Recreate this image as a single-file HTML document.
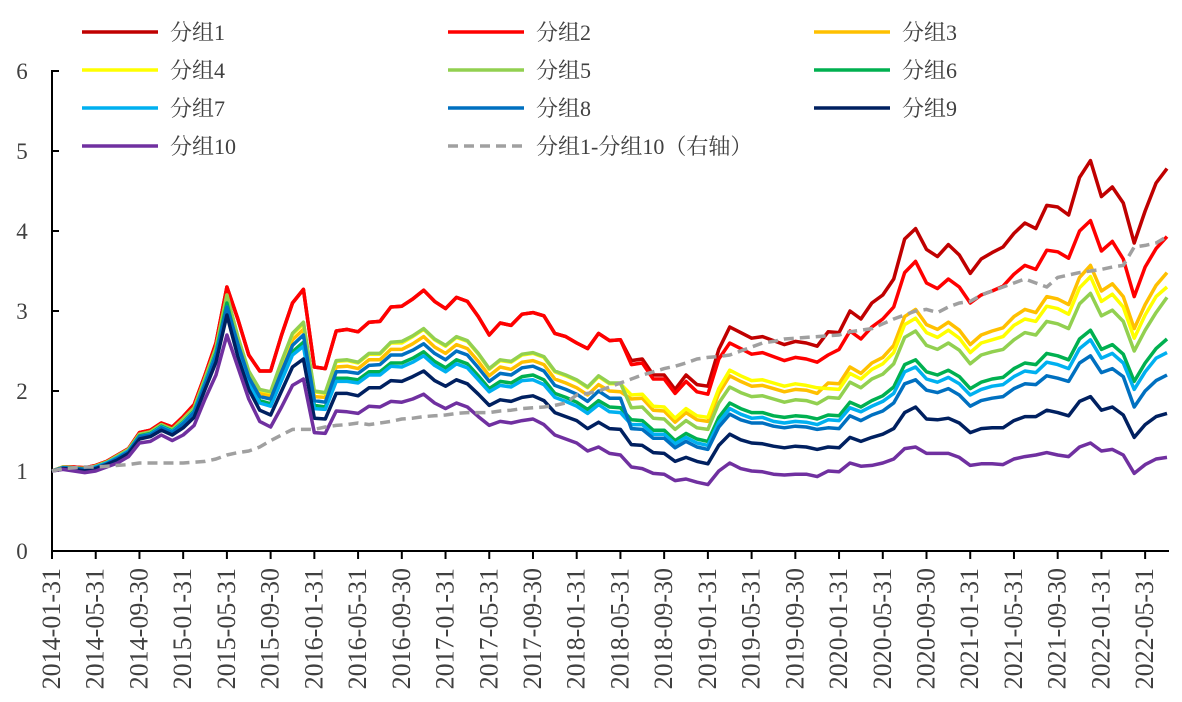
<!DOCTYPE html>
<html><head><meta charset="utf-8"><style>
html,body{margin:0;padding:0;background:#fff;}
svg{display:block;font-family:"Liberation Serif","Noto Serif CJK SC",serif;}
</style></head><body>
<svg id="chart" width="1182" height="702" viewBox="0 0 1182 702" xmlns="http://www.w3.org/2000/svg"></svg>
<script>
const g1=[1.00,1.05,1.05,1.04,1.07,1.12,1.20,1.28,1.48,1.51,1.60,1.55,1.68,1.83,2.20,2.60,3.30,2.90,2.45,2.25,2.25,2.70,3.10,3.27,2.30,2.28,2.75,2.77,2.74,2.86,2.87,3.05,3.06,3.15,3.26,3.12,3.03,3.17,3.12,2.93,2.70,2.85,2.82,2.96,2.98,2.94,2.72,2.68,2.60,2.53,2.72,2.63,2.64,2.38,2.40,2.20,2.20,2.02,2.20,2.08,2.06,2.52,2.80,2.73,2.66,2.68,2.63,2.58,2.62,2.60,2.56,2.74,2.73,3.00,2.90,3.10,3.20,3.40,3.90,4.03,3.77,3.68,3.83,3.70,3.47,3.65,3.73,3.80,3.97,4.10,4.03,4.32,4.30,4.20,4.67,4.88,4.43,4.55,4.35,3.85,4.25,4.60,4.78];
const g2=[1.00,1.05,1.05,1.04,1.07,1.12,1.20,1.28,1.48,1.51,1.60,1.55,1.68,1.83,2.20,2.60,3.30,2.90,2.45,2.25,2.25,2.70,3.10,3.27,2.30,2.28,2.75,2.77,2.74,2.86,2.87,3.05,3.06,3.15,3.26,3.12,3.03,3.17,3.12,2.93,2.70,2.85,2.82,2.96,2.98,2.94,2.72,2.68,2.60,2.53,2.72,2.63,2.64,2.33,2.35,2.15,2.15,1.97,2.12,1.99,1.96,2.40,2.60,2.53,2.46,2.48,2.43,2.38,2.42,2.40,2.36,2.45,2.52,2.75,2.65,2.80,2.90,3.05,3.48,3.62,3.35,3.28,3.40,3.30,3.10,3.20,3.25,3.31,3.46,3.57,3.52,3.76,3.74,3.66,4.00,4.13,3.75,3.87,3.65,3.18,3.55,3.78,3.93];
const g3=[1.00,1.05,1.04,1.03,1.06,1.11,1.19,1.27,1.46,1.49,1.58,1.52,1.65,1.79,2.16,2.54,3.20,2.63,2.20,1.97,1.94,2.30,2.64,2.77,1.93,1.92,2.30,2.31,2.28,2.39,2.39,2.52,2.52,2.59,2.68,2.55,2.47,2.58,2.53,2.37,2.19,2.30,2.27,2.36,2.38,2.33,2.15,2.10,2.04,1.95,2.08,2.00,1.99,1.90,1.91,1.76,1.75,1.61,1.73,1.64,1.62,1.97,2.19,2.12,2.06,2.07,2.03,1.99,2.02,2.01,1.97,2.10,2.09,2.30,2.22,2.35,2.42,2.57,2.93,3.02,2.83,2.77,2.86,2.76,2.58,2.70,2.75,2.79,2.93,3.02,2.98,3.18,3.15,3.08,3.42,3.57,3.25,3.34,3.18,2.78,3.08,3.32,3.48];
const g4=[1.00,1.04,1.04,1.03,1.06,1.11,1.18,1.26,1.45,1.48,1.57,1.52,1.63,1.78,2.14,2.52,3.15,2.67,2.24,2.01,1.98,2.36,2.71,2.84,1.99,1.97,2.37,2.38,2.35,2.46,2.46,2.60,2.60,2.68,2.77,2.64,2.56,2.67,2.62,2.46,2.27,2.38,2.36,2.45,2.47,2.42,2.24,2.19,2.13,2.04,2.18,2.09,2.09,1.95,1.96,1.81,1.80,1.66,1.78,1.69,1.67,2.03,2.26,2.19,2.13,2.14,2.10,2.06,2.09,2.07,2.04,2.03,2.02,2.22,2.15,2.27,2.34,2.48,2.83,2.91,2.73,2.67,2.76,2.66,2.48,2.60,2.64,2.68,2.82,2.90,2.87,3.06,3.03,2.96,3.29,3.43,3.12,3.21,3.05,2.66,2.95,3.18,3.30];
const g5=[1.00,1.05,1.04,1.03,1.06,1.11,1.19,1.27,1.46,1.49,1.58,1.52,1.65,1.79,2.16,2.54,3.20,2.68,2.25,2.02,1.99,2.37,2.72,2.86,2.00,1.98,2.38,2.39,2.36,2.47,2.47,2.61,2.62,2.69,2.78,2.65,2.57,2.68,2.63,2.47,2.28,2.39,2.37,2.46,2.48,2.43,2.25,2.20,2.14,2.05,2.19,2.10,2.10,1.79,1.80,1.66,1.65,1.52,1.63,1.54,1.52,1.85,2.05,1.98,1.93,1.94,1.90,1.86,1.89,1.88,1.84,1.92,1.91,2.11,2.04,2.15,2.21,2.34,2.67,2.75,2.57,2.52,2.60,2.51,2.34,2.45,2.49,2.52,2.64,2.73,2.70,2.87,2.84,2.78,3.09,3.22,2.94,3.01,2.87,2.50,2.76,2.98,3.17];
const g6=[1.00,1.04,1.04,1.02,1.05,1.10,1.17,1.25,1.44,1.47,1.56,1.50,1.61,1.75,2.11,2.48,3.10,2.55,2.13,1.88,1.84,2.17,2.49,2.61,1.82,1.80,2.16,2.16,2.14,2.24,2.24,2.35,2.35,2.41,2.49,2.37,2.29,2.39,2.34,2.19,2.03,2.12,2.10,2.18,2.20,2.14,1.97,1.92,1.86,1.77,1.88,1.80,1.79,1.64,1.63,1.51,1.51,1.38,1.47,1.40,1.37,1.67,1.85,1.78,1.73,1.73,1.69,1.67,1.69,1.68,1.65,1.70,1.69,1.86,1.80,1.88,1.94,2.05,2.33,2.39,2.24,2.20,2.26,2.18,2.03,2.11,2.15,2.17,2.28,2.35,2.33,2.47,2.44,2.39,2.65,2.76,2.52,2.58,2.46,2.12,2.35,2.53,2.65];
const g7=[1.00,1.04,1.03,1.02,1.05,1.10,1.17,1.25,1.43,1.46,1.55,1.49,1.60,1.74,2.10,2.46,3.05,2.52,2.10,1.85,1.81,2.13,2.45,2.56,1.78,1.77,2.12,2.12,2.10,2.20,2.20,2.31,2.30,2.36,2.44,2.32,2.24,2.34,2.29,2.14,1.99,2.07,2.05,2.13,2.14,2.08,1.92,1.87,1.81,1.72,1.83,1.74,1.73,1.58,1.58,1.46,1.46,1.34,1.42,1.35,1.32,1.61,1.78,1.71,1.66,1.67,1.62,1.60,1.62,1.61,1.58,1.64,1.63,1.79,1.74,1.81,1.87,1.97,2.24,2.30,2.15,2.11,2.17,2.09,1.95,2.02,2.06,2.08,2.18,2.25,2.23,2.36,2.33,2.28,2.53,2.64,2.41,2.47,2.35,2.02,2.24,2.41,2.48];
const g8=[1.00,1.04,1.03,1.02,1.04,1.09,1.16,1.24,1.43,1.45,1.54,1.48,1.59,1.73,2.08,2.44,3.05,2.59,2.17,1.93,1.90,2.24,2.57,2.70,1.88,1.86,2.24,2.24,2.22,2.32,2.33,2.45,2.45,2.51,2.59,2.47,2.39,2.50,2.45,2.29,2.12,2.22,2.20,2.29,2.31,2.25,2.07,2.02,1.96,1.87,2.00,1.91,1.91,1.53,1.52,1.41,1.41,1.29,1.37,1.30,1.27,1.55,1.71,1.64,1.60,1.60,1.56,1.54,1.56,1.55,1.52,1.54,1.53,1.69,1.63,1.70,1.75,1.85,2.09,2.14,2.01,1.98,2.03,1.95,1.81,1.88,1.91,1.93,2.03,2.09,2.08,2.19,2.16,2.12,2.35,2.44,2.23,2.28,2.18,1.80,2.00,2.13,2.20];
const g9=[1.00,1.03,1.02,1.00,1.03,1.08,1.14,1.22,1.40,1.43,1.51,1.45,1.54,1.67,2.02,2.36,2.95,2.43,2.02,1.76,1.70,2.00,2.30,2.40,1.66,1.65,1.97,1.97,1.94,2.04,2.04,2.13,2.12,2.18,2.25,2.13,2.06,2.14,2.09,1.96,1.82,1.89,1.87,1.92,1.94,1.88,1.73,1.68,1.63,1.53,1.61,1.53,1.52,1.33,1.32,1.23,1.22,1.12,1.17,1.12,1.09,1.32,1.46,1.39,1.35,1.34,1.31,1.29,1.31,1.30,1.27,1.30,1.29,1.42,1.37,1.42,1.46,1.53,1.73,1.80,1.65,1.64,1.66,1.60,1.48,1.53,1.54,1.54,1.63,1.68,1.68,1.76,1.73,1.69,1.87,1.93,1.76,1.80,1.70,1.42,1.58,1.68,1.72];
const g10=[1.00,1.02,1.00,0.98,1.00,1.05,1.10,1.18,1.35,1.37,1.45,1.38,1.45,1.57,1.90,2.20,2.70,2.30,1.90,1.62,1.55,1.80,2.07,2.15,1.48,1.47,1.75,1.74,1.72,1.81,1.80,1.87,1.86,1.90,1.96,1.85,1.78,1.85,1.80,1.68,1.57,1.62,1.60,1.63,1.65,1.58,1.45,1.40,1.35,1.25,1.30,1.22,1.20,1.05,1.03,0.97,0.96,0.88,0.90,0.86,0.83,1.00,1.10,1.03,1.00,0.99,0.96,0.95,0.96,0.96,0.93,1.00,0.99,1.10,1.06,1.07,1.10,1.15,1.28,1.30,1.22,1.22,1.22,1.17,1.07,1.09,1.09,1.08,1.15,1.18,1.20,1.23,1.20,1.18,1.30,1.35,1.25,1.27,1.20,0.97,1.08,1.15,1.17];
const spread=[1.00,1.03,1.04,1.05,1.05,1.06,1.07,1.08,1.10,1.10,1.10,1.10,1.10,1.11,1.12,1.15,1.20,1.23,1.25,1.30,1.38,1.45,1.52,1.52,1.52,1.55,1.57,1.58,1.60,1.58,1.60,1.62,1.65,1.66,1.68,1.69,1.70,1.72,1.73,1.73,1.73,1.75,1.76,1.78,1.79,1.80,1.82,1.85,1.95,1.97,2.00,2.05,2.10,2.15,2.20,2.24,2.28,2.31,2.35,2.40,2.42,2.43,2.45,2.50,2.55,2.60,2.62,2.65,2.66,2.67,2.68,2.69,2.70,2.74,2.76,2.78,2.84,2.90,2.95,3.00,3.02,2.98,3.05,3.10,3.12,3.20,3.25,3.30,3.35,3.40,3.35,3.30,3.42,3.45,3.48,3.50,3.52,3.55,3.57,3.80,3.82,3.85,3.93];
const yTicks=[0,1,2,3,4,5,6];
const months=[];
for(let y=2014;y<=2022;y++){for(let m=1;m<=12;m++){months.push(y+'-'+String(m).padStart(2,'0'));}}
const dayEnd={'01':'31','05':'31','09':'30'};

const NS='http://www.w3.org/2000/svg';
const svg=document.getElementById('chart');
const X0=52,X1=1167,Y0=551,YS=80;
const N=g1.length;
const xS=i=>X0+i*(X1-X0)/(N-1);
const yS=v=>Y0-v*YS;
function mk(tag,attrs,parent){const e=document.createElementNS(NS,tag);for(const k in attrs)e.setAttribute(k,attrs[k]);(parent||svg).appendChild(e);return e;}

const ax=mk('g',{});


const yl=mk('line',{x1:X0,y1:yS(6)-1,x2:X0,y2:Y0+1,stroke:'#000','stroke-width':2},ax);


const xl=mk('line',{x1:X0-1,y1:Y0,x2:X1+2,y2:Y0,stroke:'#000','stroke-width':2},ax);


yTicks.forEach(t=>{
  const tk=mk('line',{x1:X0,y1:yS(t),x2:X0+7,y2:yS(t),stroke:'#000','stroke-width':2},ax);
  
  
  const tx=mk('text',{x:22,y:yS(t)+8,'font-size':23,fill:'#404040','text-anchor':'middle'},ax);
  
  
  tx.textContent=t;
});
for(let i=0;i<N;i+=4){
  const x=xS(i);
  const tk=mk('line',{x1:x,y1:Y0,x2:x,y2:Y0+8,stroke:'#000','stroke-width':2},ax);
  
  
  const mm=months[i].slice(5);
  const tx=mk('text',{x:0,y:0,'font-size':26,fill:'#404040','text-anchor':'end',transform:'translate('+(x+8)+','+(Y0+17)+') rotate(-90)'},ax);
  
  
  tx.textContent=months[i]+'-'+dayEnd[mm];
}

const series=[
 {n:'分组1',d:g1,c:'#C00000'},{n:'分组2',d:g2,c:'#FF0000'},{n:'分组3',d:g3,c:'#FFC000'},
 {n:'分组4',d:g4,c:'#FFFF00'},{n:'分组5',d:g5,c:'#92D050'},{n:'分组6',d:g6,c:'#00B050'},
 {n:'分组7',d:g7,c:'#00B0F0'},{n:'分组8',d:g8,c:'#0070C0'},{n:'分组9',d:g9,c:'#002060'},
 {n:'分组10',d:g10,c:'#7030A0'},{n:'分组1-分组10（右轴）',d:spread,c:'#A0A0A0',dash:true}
];
series.forEach((s,k)=>{
  const p=s.d.map((v,i)=>(i?'L':'M')+xS(i).toFixed(2)+' '+yS(v).toFixed(2)).join(' ');
  const a={d:p,fill:'none',stroke:s.c,'stroke-width':3.5,'stroke-linejoin':'round'};
  if(s.dash)a['stroke-dasharray']='10 6';
  const e=mk('path',a);
  
  
  const col=k%3,row=Math.floor(k/3);
  const lx=[82,448,814][col],ly=32+row*38;
  const lg=mk('g',{});
  
  
  const la={x1:lx,y1:ly,x2:lx+76,y2:ly,stroke:s.c,'stroke-width':3.5};
  if(s.dash)la['stroke-dasharray']='10 6';
  mk('line',la,lg);
  const t=mk('text',{x:lx+88,y:ly+8,'font-size':22,fill:'#404040'},lg);
  t.textContent=s.n;
});
</script>
</body></html>
